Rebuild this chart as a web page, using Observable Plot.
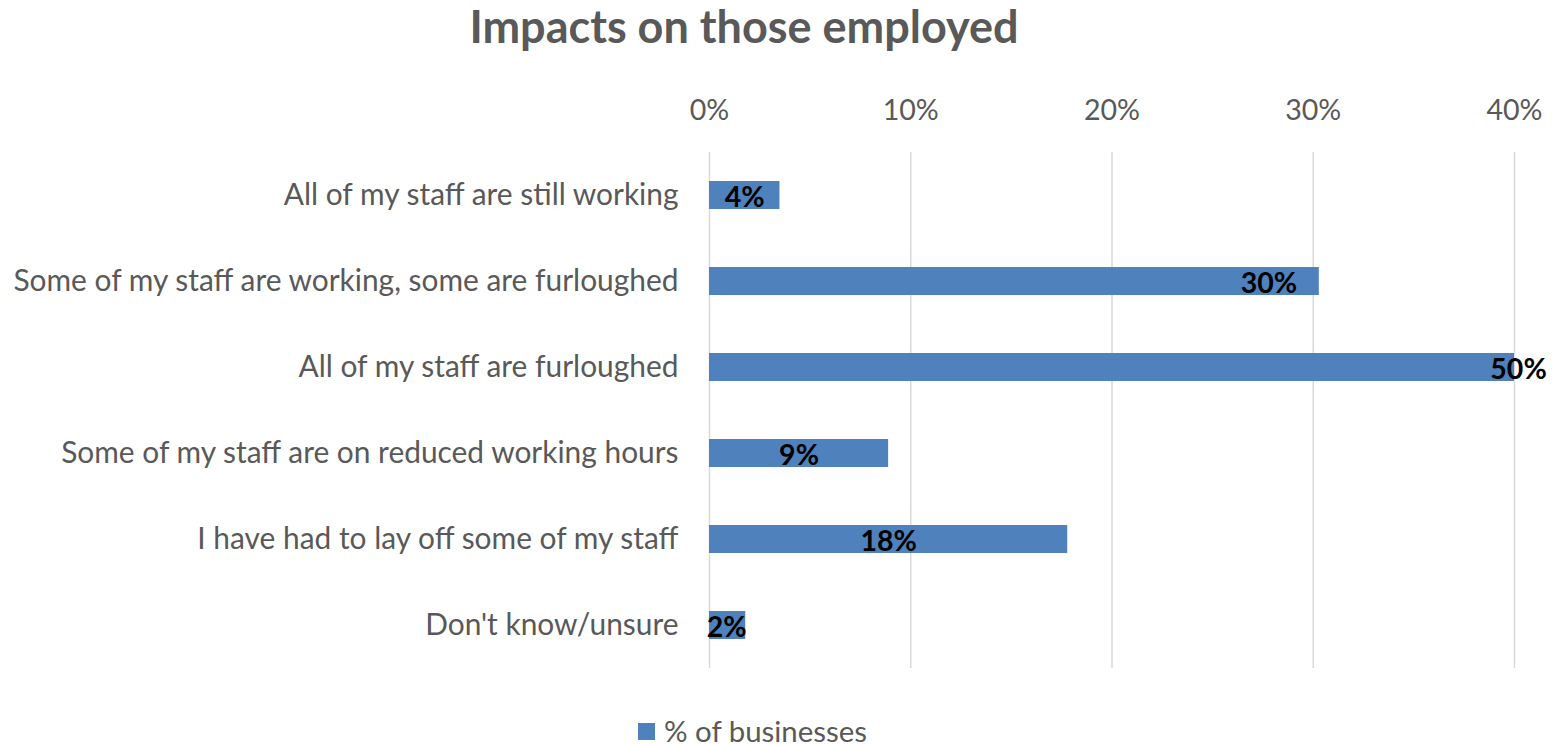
<!DOCTYPE html>
<html>
<head>
<meta charset="utf-8">
<script src="https://cdn.jsdelivr.net/npm/d3@7"></script>
<script src="https://cdn.jsdelivr.net/npm/@observablehq/plot@0.6"></script>
<style>
  html, body { margin: 0; padding: 0; background: white; }
  #wrap { position: relative; width: 1565px; height: 745px; font-family: Lato, "Open Sans", sans-serif; color: #595959; }
  #title { position: absolute; left: 0; width: 1488px; top: -2px; text-align: center; font-size: 45px; font-weight: bold; line-height: 56px; }
  #chart { position: absolute; left: 0; top: 70px; }
  #legend { position: absolute; left: 638px; top: 712px; font-size: 29.4px; line-height: 38px; display: flex; align-items: center; }
  #legend .sw { display: inline-block; width: 17px; height: 17px; background: #4f81bd; margin-right: 9px; }
</style>
</head>
<body>
<div id="wrap">
  <div id="title">Impacts on those employed</div>
  <div id="chart"></div>
  <div id="legend"><span class="sw"></span><span>% of businesses</span></div>
</div>
<script>
const categories = [
  "All of my staff are still working",
  "Some of my staff are working, some are furloughed",
  "All of my staff are furloughed",
  "Some of my staff are on reduced working hours",
  "I have had to lay off some of my staff",
  "Don't know/unsure"
];
const values = [3.5, 30.3, 50, 8.9, 17.8, 1.8];
const valueLabels = ["4%", "30%", "50%", "9%", "18%", "2%"];
const labelAt = [1.75, 27.8, 40.2, 4.45, 8.9, 0.85];
const xTicks = [0, 10, 20, 30, 40];

const data = categories.map((c, i) => ({cat: c, value: values[i], label: valueLabels[i], at: labelAt[i]}));

const chart = Plot.plot({
  width: 1565,
  height: 620,
  marginLeft: 709,
  marginRight: 51,
  marginTop: 82,
  marginBottom: 22,
  style: {fontFamily: "Lato, 'Open Sans', sans-serif", fontSize: "29.9px", color: "#595959", background: "white", overflow: "visible"},
  x: {domain: [0, 40]},
  y: {domain: categories, paddingInner: 0.674, paddingOuter: 0.337},
  marks: [
    Plot.gridX(xTicks, {stroke: "#d9d9d9", strokeOpacity: 1, strokeWidth: 1.5}),
    Plot.barX(data, {x: "value", y: "cat", fill: "#4f81bd", clip: true}),
    Plot.text(data, {x: "at", y: "cat", text: "label", fill: "black", fontWeight: "bold", fontSize: 28.5, dy: 2}),
    Plot.axisX(xTicks, {anchor: "top", tickSize: 0, tickPadding: 33, tickFormat: d => d + "%", label: null, fill: "#595959", fontSize: 28.6}),
    Plot.axisY({anchor: "left", tickSize: 0, tickPadding: 31, label: null, fill: "#595959"})
  ]
});
document.getElementById("chart").appendChild(chart);
</script>
</body>
</html>
